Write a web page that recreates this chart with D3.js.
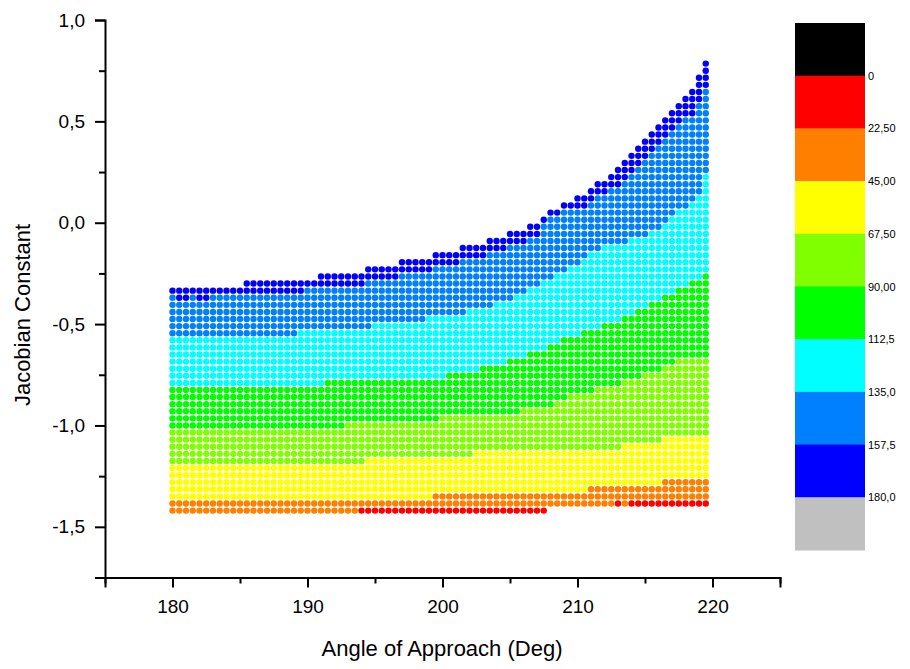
<!DOCTYPE html>
<html><head><meta charset="utf-8">
<script src="https://cdn.jsdelivr.net/npm/d3@7"></script>
<style>
body{margin:0;background:#fff}
svg{display:block}
text{font-family:"Liberation Sans",Arial,sans-serif;fill:#000}
</style>
</head><body>
<svg id="c" width="910" height="669"></svg>
<script>
// ---- data ----
const xGridStart = 180, xGridEnd = 219.5, xGridStep = 0.5;
const yGridStart = -1.42, yGridStep = 0.035, yGridRows = 66;

const levelLabels = ["0","22,50","45,00","67,50","90,00","112,5","135,0","157,5","180,0"];
const levelColors = ["#000000","#FF0000","#FF8000","#FFFF00","#80FF00","#00FF00","#00FFFF","#0080FF","#0000FF","#C0C0C0"];

// step boundaries: [x from which the value holds, Jacobian constant]
const bottomEdge = [[180,-1.42],[208,-1.385]];
const topEdge = [[180,-0.335],[185.5,-0.30],[191,-0.265],[194.5,-0.23],[197,-0.195],[199.5,-0.16],[201.5,-0.125],[203.5,-0.09],[205,-0.055],[206.5,-0.02],[207.5,0.015],[208,0.05],[209,0.085],[210,0.12],[211,0.155],[211.5,0.19],[212.5,0.225],[213,0.26],[213.5,0.295],[214,0.33],[214.5,0.365],[215,0.40],[215.5,0.435],[216,0.47],[216.5,0.505],[217,0.54],[217.5,0.575],[218,0.61],[218.5,0.645],[219,0.715],[219.5,0.785]];
const orangeStart = [[180,-1.5],[194,-1.40],[208,-1.5],[213,-1.37],[213.5,-1.5],[214,-1.37]];
const yellowStart = [[180,-1.365],[199.5,-1.33],[211,-1.295],[216.5,-1.26]];
const yellowGreenStart = [[180,-1.19],[194.5,-1.155],[202.5,-1.12],[213.5,-1.085],[216.5,-1.05]];
const greenStart = [[180,-1.03],[193,-0.99],[200,-0.96],[206,-0.925],[208.5,-0.89],[209.5,-0.855],[211.5,-0.82],[213.5,-0.785],[215,-0.75],[216.5,-0.715],[217.5,-0.68]];
const cyanStart = [[180,-0.80],[191.5,-0.77],[200.5,-0.735],[203,-0.70],[205,-0.665],[206.5,-0.63],[208,-0.595],[209,-0.56],[210.5,-0.525],[212,-0.49],[213.5,-0.455],[214.5,-0.42],[215.5,-0.385],[216.5,-0.35],[217.5,-0.315],[218.5,-0.28],[219.5,-0.245]];
const azureStart = [[180,-0.56],[189.5,-0.525],[195,-0.49],[199,-0.455],[202,-0.42],[204,-0.385],[205.5,-0.35],[206.5,-0.315],[207.5,-0.28],[208.5,-0.245],[209.5,-0.21],[210.5,-0.175],[211,-0.14],[212,-0.105],[214,-0.07],[215.5,-0.035],[216.5,0.0],[217,0.035],[217.5,0.07],[218.5,0.105],[219,0.14],[219.5,0.24]];
const blueStart = [[180,-0.35],[180.5,-0.385],[181.5,-0.35],[182,-0.385],[183,-0.35],[190,-0.315],[194.5,-0.28],[197,-0.245],[199.5,-0.21],[201.5,-0.175],[203.5,-0.14],[205,-0.105],[206.5,-0.07],[207.5,0.0],[208,0.03],[209,0.065],[210,0.065],[211,0.10],[211.5,0.135],[212.5,0.17],[213.5,0.205],[214,0.24],[214.5,0.28],[215,0.31],[215.5,0.345],[216,0.38],[216.5,0.415],[217,0.45],[217.5,0.485],[218,0.52],[219,0.59],[219.5,0.66]];

const xMajorTicks = [180,190,200,210,220];
const xMinorTicks = [175,185,195,205,215,225];
const yMajorTicks = [1,0.5,0,-0.5,-1,-1.5];
const yMinorTicks = [0.75,0.25,-0.25,-0.75,-1.25,-1.75];

// ---- drawing ----
const svg = d3.select("#c");
const x = d3.scaleLinear().domain([175,225]).range([105,780]);
const y = d3.scaleLinear().domain([-1.75,1.0]).range([577.5,20]);

function look(steps, xv){
  let v = steps[0][1];
  for (const s of steps) if (s[0] <= xv + 1e-9) v = s[1];
  return v;
}
const starts = [orangeStart,yellowStart,yellowGreenStart,greenStart,cyanStart,azureStart,blueStart];

const cols = d3.range(xGridStart, xGridEnd + 1e-9, xGridStep);
const rows = d3.range(0, yGridRows).map(k => yGridStart + k*yGridStep);
const dots = [];
for (const xv of cols){
  const lo = look(bottomEdge, xv), hi = look(topEdge, xv);
  for (const yv of rows){
    if (yv < lo - 1e-6 || yv > hi + 1e-6) continue;
    let idx = 1;
    for (const s of starts) if (yv >= look(s, xv) - 1e-9) idx++;
    dots.push({x:xv, y:yv, c:levelColors[idx]});
  }
}
svg.append("g").selectAll("circle").data(dots).join("circle")
  .attr("cx", d => x(d.x)).attr("cy", d => y(d.y)).attr("r", 3.2)
  .attr("fill", d => d.c);

const fmt = d => (d < 0 ? "-" : "") + Math.abs(d).toFixed(1).replace(".", ",");

// axes
const gx = svg.append("g").attr("transform","translate(0,577.5)");
gx.call(d3.axisBottom(x).tickValues(xMajorTicks).tickSize(10).tickPadding(12).tickFormat(d3.format("d")));
gx.append("g").call(d3.axisBottom(x).tickValues(xMinorTicks).tickSize(6).tickFormat(""));
const gy = svg.append("g").attr("transform","translate(105,0)");
gy.call(d3.axisLeft(y).tickValues(yMajorTicks).tickSize(10).tickPadding(10).tickFormat(fmt));
gy.append("g").call(d3.axisLeft(y).tickValues(yMinorTicks).tickSize(6).tickFormat(""));
svg.selectAll(".domain").attr("stroke","#000").attr("stroke-width",2);
svg.selectAll(".tick line").attr("stroke","#000").attr("stroke-width",2);
gx.selectAll(".tick text").attr("font-size",19).attr("font-family","Liberation Sans, Arial, sans-serif");
gy.selectAll(".tick text").attr("font-size",19).attr("font-family","Liberation Sans, Arial, sans-serif");
svg.selectAll(".domain").filter(function(){return this.parentNode !== gx.node() && this.parentNode !== gy.node();}).remove();

svg.append("text").attr("x", 442).attr("y", 656).attr("text-anchor","middle")
  .attr("font-size", 22).text("Angle of Approach (Deg)");
svg.append("text").attr("transform","translate(30,315) rotate(-90)").attr("text-anchor","middle")
  .attr("font-size", 22).text("Jacobian Constant");

// legend
const lg = d3.scaleBand().domain(d3.range(levelColors.length)).range([23,550]).paddingInner(0);
svg.append("g").selectAll("rect").data(levelColors).join("rect")
  .attr("x", 795).attr("width", 70)
  .attr("y", (d,i) => lg(i)).attr("height", lg.bandwidth() + 0.5)
  .attr("fill", d => d);
svg.append("g").selectAll("text").data(levelLabels).join("text")
  .attr("x", 868).attr("y", (d,i) => lg(i+1) + 4)
  .attr("font-size", 11).text(d => d);
</script>
</body></html>
